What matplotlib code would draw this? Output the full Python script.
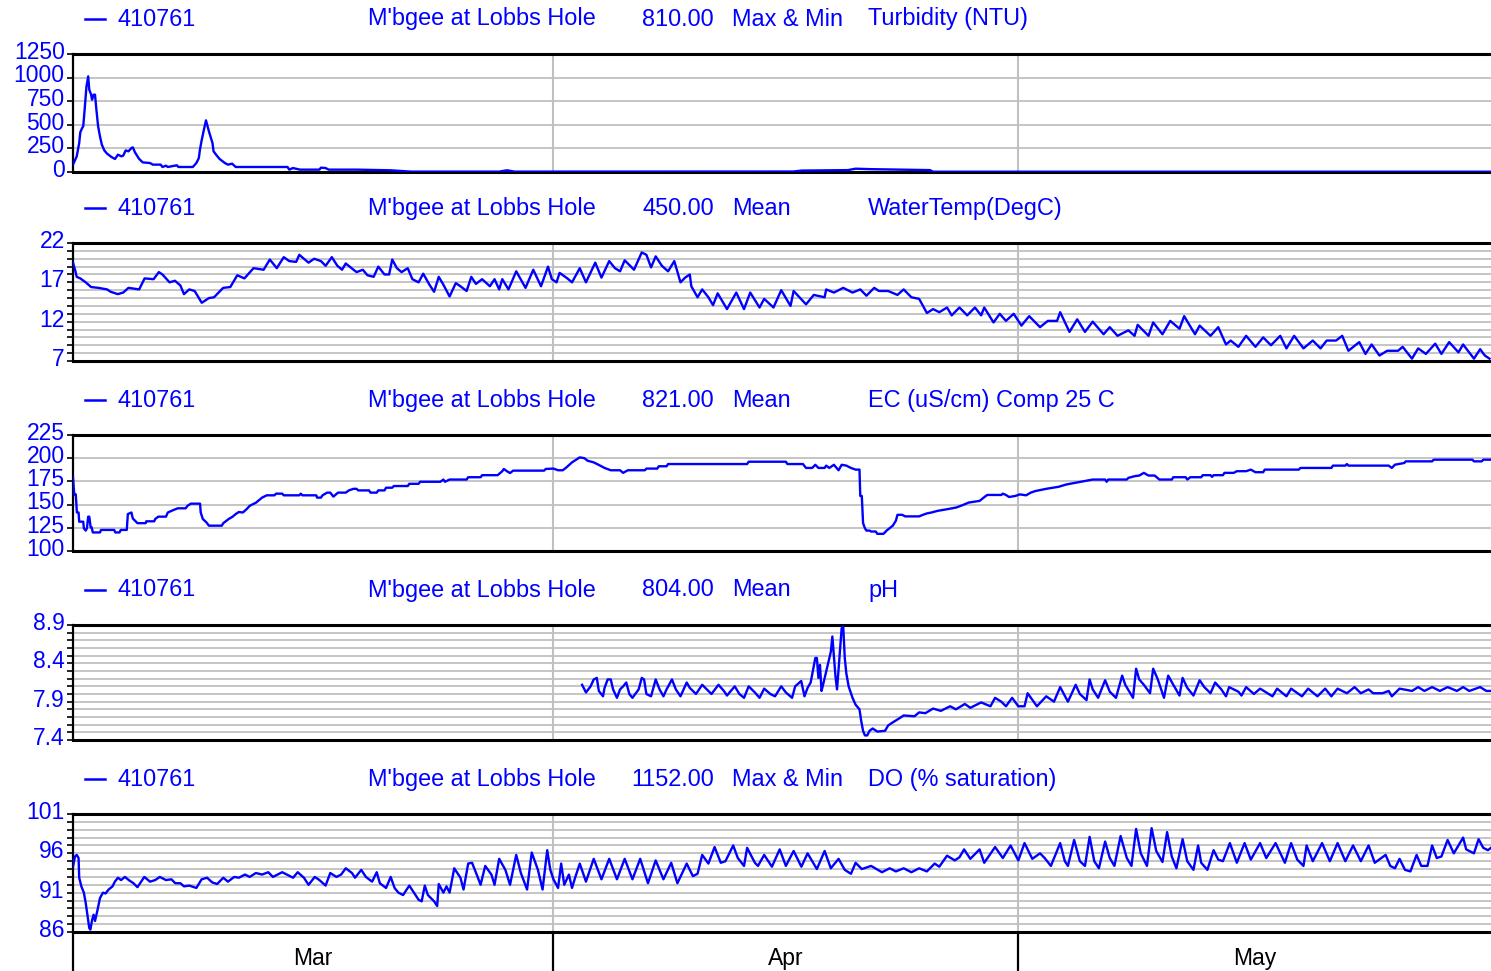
import numpy as np
import matplotlib
matplotlib.use("Agg")
import matplotlib.pyplot as plt
from matplotlib.ticker import FixedLocator, MultipleLocator, NullFormatter
from matplotlib.transforms import ScaledTranslation

plt.rcParams['font.family'] = ['Liberation Sans', 'DejaVu Sans']

# time axis in days since 1 Mar
months = ["Mar", "Apr", "May"]
month_start = [0, 31, 61]
month_mid = [15.5, 46, 76.25]
x_end = 91.5

site = "410761"
site_name = "M'bgee at Lobbs Hole"

# ---- Turbidity (NTU)
turb_day = [0, 0.24, 0.4, 0.47, 0.59, 0.66, 0.75, 0.87, 0.98, 1.05, 1.17, 1.23, 1.33, 1.42,
            1.51, 1.62, 1.74, 1.86, 2.02, 2.2, 2.48, 2.71, 2.9, 3.12, 3.24, 3.4, 3.58, 3.77,
            3.86, 4.0, 4.27, 4.5, 4.97, 5.15, 5.66, 5.77, 6.0, 6.12, 6.7, 6.8, 7.73, 7.96,
            8.12, 8.19, 8.31, 8.47, 8.58, 8.77, 9.0, 9.07, 9.23, 9.46, 9.8, 10.0, 10.27, 10.5,
            11.2, 13.84, 13.96, 14.19, 14.65, 15.9, 16.0, 16.3, 16.5, 18.3, 20.5, 21.8, 27.5,
            28.0, 28.5, 46.5, 47.0, 50.0, 50.5, 51.5, 55.3, 55.5, 91.5]
turb_val = [78, 166, 307, 420, 466, 484, 660, 907, 1013, 872, 819, 766, 819, 819,
            660, 484, 378, 290, 229, 194, 159, 138, 184, 166, 173, 229, 219, 254,
            261, 208, 138, 102, 95, 78, 78, 53, 67, 53, 71, 53, 53, 95,
            148, 237, 342, 466, 547, 431, 307, 219, 184, 138, 95, 78, 88, 53,
            53, 53, 25, 42, 25, 25, 46, 42, 25, 25, 18, 4, 4,
            18, 4, 5, 15, 20, 35, 30, 20, 3, 3]

# ---- Water temperature (DegC)
temp_day = [0, 0.13, 0.24, 0.47, 0.82, 1.17, 1.63, 2.2, 2.43, 2.89, 3.24, 3.58, 4.27, 4.62,
            5.2, 5.54, 5.77, 6.23, 6.58, 6.93, 7.16, 7.5, 7.85, 8.31, 8.77, 9.1, 9.69, 10.15,
            10.6, 11.06, 11.65, 12.3, 12.7, 13.15, 13.6, 13.95, 14.4, 14.6, 14.9, 15.2, 15.56,
            16.0, 16.3, 16.7, 17.06, 17.36, 17.6, 18.1, 18.3, 18.7, 19.0, 19.4, 19.7, 20.1,
            20.4, 20.6, 20.9, 21.2, 21.6, 21.9, 22.3, 22.6, 23.0, 23.3, 23.6, 23.9, 24.3, 24.7,
            25.0, 25.4, 25.7, 26.0, 26.4, 26.9, 27.2, 27.5, 27.7, 28.1, 28.6, 29.2, 29.7, 30.2,
            30.65, 30.9, 31.2, 31.4, 31.9, 32.2, 32.7, 33.1, 33.7, 34.1, 34.6, 34.97, 35.3, 35.6,
            36.2, 36.7, 37.0, 37.3, 37.6, 38.0, 38.4, 38.8, 39.2, 39.5, 39.8, 39.9, 40.3, 40.6,
            41.0, 41.3, 41.6, 42.2, 42.8, 43.3, 43.7, 44.3, 44.6, 45.2, 45.7, 46.3, 46.5, 47.3,
            47.8, 48.5, 48.6, 49.1, 49.7, 50.3, 50.8, 51.2, 51.7, 52.0, 52.6, 53.2, 53.6, 54.1,
            54.6, 55.1, 55.5, 55.9, 56.4, 56.7, 57.2, 57.7, 58.2, 58.6, 58.8, 59.4, 59.8, 60.2,
            60.7, 61.2, 61.7, 62.4, 62.9, 63.5, 63.7, 64.3, 64.8, 65.3, 65.8, 66.5, 66.9, 67.4,
            68.1, 68.5, 68.7, 69.4, 69.7, 70.3, 70.8, 71.4, 71.7, 72.4, 72.7, 73.4, 73.9, 74.4,
            74.7, 75.2, 75.7, 76.3, 76.8, 77.3, 77.9, 78.3, 78.8, 79.4, 80.0, 80.5, 80.9, 81.5,
            81.9, 82.3, 83.0, 83.4, 83.8, 84.3, 84.8, 85.5, 85.8, 86.4, 86.8, 87.3, 87.9, 88.3,
            88.8, 89.4, 89.7, 90.4, 90.8, 91.1, 91.4]
temp_val = [19.5, 18.6, 17.7, 17.5, 17.0, 16.4, 16.3, 16.1, 15.8, 15.5, 15.7, 16.3, 16.1, 17.5,
            17.4, 18.3, 18.0, 17.0, 17.2, 16.6, 15.5, 16.1, 15.9, 14.4, 15.0, 15.1, 16.3, 16.4,
            17.9, 17.5, 18.8, 18.6, 19.9, 18.8, 20.2, 19.7, 19.6, 20.5, 20.0, 19.5, 20.0,
            19.7, 19.1, 20.2, 19.1, 18.6, 19.4, 18.6, 18.3, 18.6, 17.9, 17.7, 19.0, 18.0,
            18.0, 19.9, 18.8, 18.3, 18.8, 17.4, 17.0, 18.1, 16.7, 15.8, 17.7, 16.7, 15.2, 16.9,
            16.5, 15.9, 17.7, 16.8, 17.4, 16.5, 17.4, 16.1, 17.4, 16.1, 18.4, 16.3, 18.6, 16.5,
            19.0, 17.4, 17.0, 18.2, 17.5, 17.0, 18.8, 17.0, 19.5, 17.6, 19.7, 18.8, 18.4, 19.8,
            18.6, 20.8, 20.5, 18.9, 20.3, 19.1, 18.4, 19.7, 17.0, 17.6, 18.0, 16.5, 15.1, 16.1,
            15.1, 14.1, 15.6, 13.6, 15.7, 13.6, 15.7, 13.8, 14.9, 13.8, 16.0, 14.0, 15.9, 14.2,
            15.4, 15.1, 16.1, 15.7, 16.3, 15.7, 16.1, 15.3, 16.3, 15.9, 15.9, 15.4, 16.1, 15.1,
            14.9, 13.1, 13.6, 13.2, 13.8, 12.8, 13.8, 12.8, 13.8, 12.8, 13.8, 11.9, 13.0, 12.1,
            13.0, 11.5, 12.7, 11.3, 12.1, 12.1, 13.2, 10.7, 12.3, 10.7, 12.0, 10.4, 11.3, 10.2,
            10.9, 10.2, 11.6, 10.2, 11.9, 10.4, 12.1, 11.1, 12.7, 10.4, 11.5, 10.2, 11.3, 9.1,
            9.6, 8.8, 10.2, 8.8, 10.0, 9.0, 10.2, 8.6, 10.2, 8.6, 9.6, 8.6, 9.6, 9.6,
            10.2, 8.3, 9.4, 7.9, 9.1, 7.7, 8.3, 8.3, 8.8, 7.3, 8.6, 7.9, 9.2, 7.9,
            9.4, 8.1, 9.1, 7.3, 8.5, 7.7, 7.3]

# ---- EC (uS/cm) compensated to 25 C
ec_day = [0, 0.08, 0.18, 0.25, 0.36, 0.4, 0.66, 0.7, 0.82, 0.9, 0.98, 1.05, 1.14, 1.2, 1.28,
          1.74, 1.81, 2.66, 2.73, 3.0, 3.08, 3.47, 3.54, 3.77, 3.86, 4.16, 4.69, 4.73, 5.24,
          5.3, 5.5, 6.0, 6.12, 6.46, 6.76, 7.27, 7.39, 7.6, 8.2, 8.24, 8.38, 8.6, 8.77, 9.6,
          9.7, 10.04, 10.3, 10.5, 10.7, 10.96, 11.2, 11.4, 11.8, 12.2, 12.5, 13.0, 13.1, 13.5,
          13.6, 14.6, 14.7, 14.8, 15.7, 15.75, 16.0, 16.1, 16.4, 16.6, 16.8, 17.1, 17.6, 17.8,
          18.1, 18.3, 18.4, 19.1, 19.2, 19.6, 19.7, 20.1, 20.2, 20.6, 20.7, 21.6, 21.7, 22.3,
          22.4, 23.7, 23.9, 24.0, 24.3, 25.4, 25.5, 26.3, 26.4, 27.4, 27.7, 27.8, 28.0, 28.2,
          28.4, 30.4, 30.5, 31.0, 31.3, 31.6, 31.8, 32.2, 32.7, 33.0, 33.2, 33.6, 33.9, 34.3,
          34.7, 35.3, 35.5, 35.8, 36.9, 37.0, 37.7, 37.8, 38.3, 38.4, 43.5, 43.6, 46.0, 46.1,
          47.1, 47.3, 47.7, 47.9, 48.1, 48.5, 48.6, 48.8, 49.1, 49.4, 49.6, 49.9, 50.2, 50.5,
          50.75, 50.8, 50.9, 50.98, 51.1, 51.2, 51.4, 51.5, 51.8, 51.9, 52.3, 52.5, 52.9, 53.1,
          53.2, 53.5, 53.7, 54.6, 54.8, 55.1, 55.4, 55.8, 56.4, 57.0, 57.4, 57.8, 58.5, 58.9,
          59.0, 59.9, 60.0, 60.2, 60.4, 60.8, 61.1, 61.5, 61.8, 62.1, 62.8, 63.6, 64.1, 64.9,
          65.8, 66.6, 66.7, 66.8, 68.0, 68.1, 68.5, 68.8, 69.1, 69.4, 69.8, 70.1, 70.9, 71.0,
          71.8, 71.9, 72.1, 72.8, 72.9, 73.4, 73.5, 73.6, 74.2, 74.3, 74.9, 75.1, 75.7, 76.0,
          76.3, 76.8, 76.9, 79.1, 79.2, 81.2, 81.3, 82.1, 82.2, 82.3, 84.9, 85.1, 85.3, 85.9,
          86.0, 87.7, 87.8, 90.3, 90.4, 90.9, 91.0, 91.5]
ec_val = [179, 161, 161, 141.5, 141.5, 131.6, 131.6, 124.5, 122, 124.5, 137, 137, 125.6, 125.6, 120,
          120, 122.7, 122.7, 120, 120, 122.7, 122.7, 139.8, 141.5, 135, 130, 130, 132, 132,
          134.4, 137, 137, 141.5, 144, 146, 146, 148.7, 151, 151, 141.5, 134.4, 131, 127.3, 127.3,
          130, 134.4, 137, 139.8, 142, 141.5, 145, 148.7, 152, 157.5, 160, 160, 161.8, 161.8,
          160, 160, 161.8, 160, 160, 157.5, 157.5, 160, 162.9, 162.9, 158.6, 162.9, 162.9, 165.3,
          167, 167, 165.3, 165.3, 162.9, 162.9, 165.3, 165.3, 168.2, 168.2, 170, 170, 172.4, 172.4,
          174.6, 174.6, 177, 174.6, 177, 177, 179.5, 179.5, 181.7, 181.7, 186, 188.4, 186, 184,
          186.6, 186.6, 188.4, 188.8, 187, 187, 189.5, 195.5, 200.9, 200, 197.3, 195.5, 193, 189.5,
          187, 187, 184.2, 187, 187, 188.8, 188.8, 191.3, 191.3, 193.7, 193.7, 196.2, 196.2, 193.7,
          193.7, 189.5, 189.5, 192.9, 189.5, 189.5, 192, 189.5, 192.9, 187, 192.9, 192, 189.5, 187.7,
          187.7, 159.3, 159.3, 130.2, 124.5, 122, 122, 121, 121, 118.5, 118.5, 122, 127.3, 132.7,
          139, 139, 137.3, 137.3, 138.7, 140.5, 141.5, 143.3, 145, 146.9, 149.4, 152.2, 154, 159.3,
          160.4, 160.4, 161.8, 160.4, 158.2, 159.3, 161, 160, 162.9, 164.6, 167, 169.2, 171.7, 174.2,
          177, 177, 174.6, 177, 177, 178.8, 180.6, 181.3, 184.2, 181.3, 181.3, 177, 177, 179.5,
          179.5, 177, 179.5, 179.5, 181.7, 181.7, 179.9, 181.7, 181.7, 184.2, 184.2, 186, 186, 187.7,
          184.9, 184.9, 187.7, 187.7, 189.5, 189.5, 192, 192, 193.7, 192, 192, 189.5, 193, 194.8,
          196.6, 196.6, 198.4, 198.4, 196.6, 196.6, 198.4, 198.4]

# ---- pH (logger starts early April)
ph_day = [32.85, 33.1, 33.4, 33.6, 33.8, 33.93, 34.2, 34.3, 34.5, 34.7, 34.85, 35.1, 35.3, 35.5,
          35.7, 35.9, 36.1, 36.5, 36.7, 36.85, 37.0, 37.3, 37.6, 37.85, 38.1, 38.3, 38.65, 38.9,
          39.2, 39.6, 39.8, 40.2, 40.6, 41.0, 41.2, 41.65, 42.0, 42.2, 42.7, 43.0, 43.3, 43.6,
          44.0, 44.3, 44.6, 45.0, 45.3, 45.7, 46.0, 46.4, 46.6, 46.99, 47.2, 47.4, 47.6, 47.9,
          48.0, 48.1, 48.2, 48.3, 48.4, 48.7, 48.9, 49.0, 49.2, 49.3, 49.4, 49.6, 49.7, 49.8,
          49.9, 50.05, 50.3, 50.5, 50.75, 50.86, 50.98, 51.1, 51.25, 51.4, 51.6, 51.9, 52.4, 52.6,
          52.9, 53.3, 53.6, 54.3, 54.6, 55.0, 55.5, 56.0, 56.6, 56.97, 57.55, 57.9, 58.6, 59.2,
          59.5, 59.9, 60.2, 60.6, 61.0, 61.4, 61.6, 62.2, 62.8, 63.3, 63.7, 64.2, 64.7, 64.97,
          65.4, 65.6, 65.8, 66.15, 66.6, 66.9, 67.3, 67.7, 67.9, 68.4, 68.6, 68.8, 69.1, 69.5,
          69.7, 70.0, 70.4, 70.67, 71.0, 71.4, 71.6, 71.9, 72.3, 72.7, 73.0, 73.4, 73.7, 74.1,
          74.4, 74.6, 75.2, 75.4, 75.7, 76.2, 76.6, 77.4, 77.7, 78.3, 78.6, 79.3, 79.7, 80.3,
          80.8, 81.2, 81.6, 82.2, 82.7, 83.1, 83.6, 83.9, 84.5, 84.9, 85.1, 85.6, 86.4, 86.8,
          87.2, 87.7, 88.2, 88.7, 89.3, 89.7, 90.1, 90.8, 91.2, 91.5]
ph_val = [8.12, 8.02, 8.10, 8.19, 8.21, 8.04, 7.97, 8.08, 8.19, 8.19, 8.06, 7.95, 8.06, 8.10,
          8.15, 8.00, 7.95, 8.06, 8.21, 8.19, 8.00, 7.97, 8.19, 8.06, 7.97, 8.06, 8.19, 8.06,
          7.97, 8.15, 8.08, 8.00, 8.12, 8.04, 8.00, 8.12, 8.04, 7.98, 8.10, 8.00, 7.95, 8.10,
          8.02, 7.95, 8.07, 8.00, 7.97, 8.10, 8.02, 7.95, 8.10, 8.17, 7.97, 8.08, 8.15, 8.47,
          8.47, 8.21, 8.38, 8.04, 8.12, 8.38, 8.55, 8.75, 8.23, 8.06, 8.32, 8.86, 8.88, 8.47,
          8.27, 8.10, 7.95, 7.86, 7.80, 7.65, 7.52, 7.46, 7.46, 7.52, 7.55, 7.51, 7.52, 7.59,
          7.63, 7.68, 7.72, 7.71, 7.76, 7.75, 7.81, 7.78, 7.84, 7.80, 7.87, 7.82, 7.89, 7.84,
          7.95, 7.90, 7.84, 7.95, 7.84, 7.84, 8.01, 7.84, 7.97, 7.90, 8.09, 7.90, 8.12, 8.00,
          7.92, 8.19, 8.06, 7.95, 8.18, 8.03, 7.95, 8.24, 8.12, 7.95, 8.33, 8.19, 8.12, 8.01,
          8.33, 8.19, 7.95, 8.24, 8.12, 7.98, 8.21, 8.08, 7.98, 8.18, 8.09, 8.01, 8.15, 8.06,
          7.97, 8.09, 8.03, 7.98, 8.09, 8.00, 8.07, 7.97, 8.07, 7.97, 8.07, 7.97, 8.07, 7.97,
          8.07, 7.97, 8.07, 8.01, 8.09, 8.01, 8.06, 8.01, 8.01, 8.04, 7.97, 8.07, 8.04, 8.09,
          8.04, 8.09, 8.04, 8.09, 8.04, 8.09, 8.04, 8.09, 8.04, 8.04]

# ---- Dissolved oxygen (% saturation)
do_day = [0, 0.13, 0.24, 0.36, 0.4, 0.54, 0.7, 0.82, 0.94, 1.05, 1.12, 1.24, 1.33, 1.42, 1.56,
          1.74, 1.93, 2.1, 2.3, 2.55, 2.7, 2.9, 3.1, 3.35, 3.6, 3.9, 4.16, 4.4, 4.6, 4.97, 5.3,
          5.6, 6.0, 6.35, 6.6, 6.93, 7.16, 7.5, 7.96, 8.3, 8.65, 8.99, 9.3, 9.7, 10.0, 10.4,
          10.7, 11.1, 11.4, 11.8, 12.2, 12.6, 12.9, 13.5, 13.8, 14.2, 14.5, 14.9, 15.2, 15.6,
          15.9, 16.3, 16.6, 17.0, 17.3, 17.6, 18.0, 18.2, 18.6, 18.9, 19.3, 19.6, 19.8, 20.2,
          20.5, 20.75, 21.0, 21.3, 21.7, 22.0, 22.3, 22.5, 22.7, 22.9, 23.3, 23.5, 23.6, 23.9,
          24.1, 24.3, 24.6, 24.8, 25.0, 25.2, 25.5, 25.75, 26.05, 26.3, 26.6, 27.0, 27.2, 27.5,
          27.9, 28.2, 28.6, 28.9, 29.3, 29.6, 30.0, 30.3, 30.6, 30.8, 31.0, 31.3, 31.5, 31.7,
          32.0, 32.2, 32.4, 32.7, 33.1, 33.6, 34.1, 34.6, 35.1, 35.6, 36.1, 36.6, 37.1, 37.6,
          38.1, 38.6, 39.0, 39.6, 40.0, 40.3, 40.6, 41.0, 41.4, 41.8, 42.1, 42.6, 42.9, 43.3,
          43.5, 44.0, 44.2, 44.6, 45.1, 45.6, 46.0, 46.5, 47.0, 47.4, 48.0, 48.5, 48.9, 49.4,
          49.8, 50.2, 50.5, 50.9, 51.5, 52.2, 52.7, 53.1, 53.6, 54.1, 54.6, 55.1, 55.6, 55.9,
          56.4, 56.9, 57.2, 57.5, 57.9, 58.5, 58.8, 59.5, 60.0, 60.5, 61.0, 61.4, 61.9, 62.4,
          62.7, 63.1, 63.7, 64.0, 64.2, 64.6, 64.97, 65.3, 65.6, 65.9, 66.2, 66.6, 66.9, 67.2,
          67.6, 68.0, 68.3, 68.6, 68.9, 69.3, 69.6, 69.9, 70.3, 70.6, 70.9, 71.2, 71.6, 71.9,
          72.3, 72.6, 72.8, 73.2, 73.6, 73.9, 74.2, 74.65, 75.1, 75.6, 76.0, 76.6, 77.0, 77.6,
          78.2, 78.6, 79.0, 79.4, 79.6, 80.0, 80.6, 81.1, 81.6, 82.1, 82.6, 83.1, 83.6, 84.0,
          84.7, 85.0, 85.3, 85.6, 85.95, 86.3, 86.7, 87.0, 87.4, 87.7, 88.0, 88.3, 88.7, 89.1,
          89.7, 89.9, 90.4, 90.7, 91.0, 91.3, 91.5]
do_val = [94.3, 95.6, 95.8, 95.4, 92.9, 91.8, 91.0, 89.7, 88.0, 86.5, 86.3, 87.6, 88.2, 87.4, 88.6,
          90.3, 91.0, 90.9, 91.4, 91.8, 92.4, 92.9, 92.6, 93.0, 92.6, 92.2, 91.7, 92.4, 93.0, 92.4, 92.6,
          93.0, 92.6, 92.7, 92.2, 92.2, 91.8, 91.9, 91.6, 92.7, 92.9, 92.3, 92.1, 92.9, 92.4, 93.0,
          92.9, 93.3, 93.0, 93.5, 93.3, 93.6, 93.0, 93.6, 93.3, 92.9, 93.6, 92.9, 92.0, 93.0,
          92.6, 91.9, 93.5, 93.0, 93.3, 94.1, 93.5, 92.9, 93.9, 93.0, 92.4, 93.6, 92.2, 91.6,
          93.0, 91.6, 91.0, 90.7, 91.9, 91.0, 90.1, 89.9, 91.9, 90.7, 89.9, 89.3, 92.1, 91.0,
          91.8, 91.0, 94.1, 93.5, 92.9, 91.4, 94.7, 94.8, 93.3, 92.0, 94.4, 93.3, 92.0, 95.3,
          93.9, 92.0, 95.8, 93.5, 91.4, 96.1, 93.9, 91.4, 96.4, 93.9, 92.7, 91.6, 94.7, 92.0,
          93.3, 91.6, 92.9, 94.7, 92.4, 95.3, 92.7, 95.3, 92.7, 95.3, 92.7, 95.3, 92.2, 95.1,
          92.7, 94.8, 92.2, 94.7, 93.1, 93.4, 95.8, 94.7, 96.8, 94.8, 95.0, 97.0, 95.4, 94.4,
          96.7, 94.8, 94.4, 95.8, 94.3, 96.5, 94.4, 96.3, 94.3, 96.0, 94.0, 96.3, 94.1, 95.3,
          93.9, 93.4, 94.8, 94.0, 94.4, 93.6, 94.1, 93.7, 94.1, 93.6, 94.1, 93.7, 94.7, 94.3,
          95.7, 95.1, 95.5, 96.5, 95.3, 96.5, 94.8, 96.8, 95.4, 97.0, 95.1, 97.3, 95.3, 96.0,
          95.4, 94.4, 97.3, 95.0, 94.4, 97.7, 95.0, 94.4, 98.1, 95.0, 94.1, 97.5, 95.4, 94.4,
          98.2, 95.4, 94.4, 99.1, 96.0, 94.4, 99.2, 96.3, 94.9, 98.7, 95.6, 94.1, 97.8, 95.0,
          93.9, 97.0, 94.8, 93.9, 96.4, 95.2, 95.0, 97.3, 94.8, 97.3, 95.2, 97.3, 95.4, 97.3,
          94.8, 97.3, 95.2, 94.4, 97.0, 95.0, 97.3, 95.0, 97.3, 95.0, 97.0, 95.0, 97.0, 94.8,
          95.8, 94.4, 94.1, 95.3, 93.9, 93.7, 95.8, 94.4, 94.4, 97.0, 95.4, 95.6, 97.7, 96.0,
          98.0, 96.5, 96.0, 97.8, 96.7, 96.4, 96.7]

panels = [
    (turb_day, turb_val, "810.00", "Max & Min", "Turbidity (NTU)", (0, 1250), [0, 250, 500, 750, 1000, 1250], None),
    (temp_day, temp_val, "450.00", "Mean", "WaterTemp(DegC)", (7, 22), [7, 12, 17, 22], 1),
    (ec_day, ec_val, "821.00", "Mean", "EC (uS/cm) Comp 25 C", (100, 225), [100, 125, 150, 175, 200, 225], None),
    (ph_day, ph_val, "804.00", "Mean", "pH", (7.4, 8.9), [7.4, 7.9, 8.4, 8.9], 0.1),
    (do_day, do_val, "1152.00", "Max & Min", "DO (% saturation)", (86, 101), [86, 91, 96, 101], 1),
]
# pixel extents (top, bottom) of each plot box
boxes = [(54, 172), (243, 361), (435, 551), (625, 740), (814, 932)]

W, H = 1491, 971
fig = plt.figure(figsize=(W / 100, H / 100), dpi=100)
blue = "#0000ff"
grey = "#c0c0c0"
fs = 16.5
hfs = 16.9
left, right = 73, 1491

for (days, vals, count, stat, param, ylim, majors, minor), (top, bot) in zip(panels, boxes):
    ax = fig.add_axes([left / W, 1 - bot / H, (right - left) / W, (bot - top) / H])
    ax.plot(days, vals, color=blue, lw=1.7, zorder=3)
    ax.set_xlim(0, x_end)
    ax.set_ylim(*ylim)
    ax.yaxis.set_major_locator(FixedLocator(majors))
    if minor:
        ax.yaxis.set_minor_locator(MultipleLocator(minor))
        ax.grid(True, axis="y", which="minor", color=grey, lw=1.3, zorder=1)
    ax.grid(True, axis="y", which="major", color=grey, lw=1.3, zorder=1)
    for d in month_start[1:]:
        ax.axvline(d, color=grey, lw=1.5, zorder=1)
    ax.tick_params(axis="y", which="both", direction="out", length=4, width=1.2,
                   colors="black", labelcolor=blue, labelsize=fs, pad=2)
    if ylim[1] < 10:
        ax.set_yticklabels([f"{v:.1f}" for v in majors])
    for lab in ax.get_yticklabels():
        lab.set_transform(lab.get_transform() + ScaledTranslation(0, 3 / 72, fig.dpi_scale_trans))
    ax.set_xticks([])
    for s in ["top", "bottom"]:
        ax.spines[s].set_linewidth(2.2)
    ax.spines["left"].set_linewidth(1.6)
    ax.spines["right"].set_visible(False)

    # header line above each box
    ty = 1 - (top - 35) / H
    fig.add_artist(plt.Line2D([85 / W, 105 / W], [ty, ty], color=blue, lw=1.8))
    fig.text(118 / W, ty, site, color=blue, fontsize=hfs, va="center")
    fig.text(368 / W, ty, site_name, color=blue, fontsize=hfs, va="center")
    fig.text(714 / W, ty, count, color=blue, fontsize=hfs, va="center", ha="right")
    fig.text(732 / W, ty, stat, color=blue, fontsize=hfs, va="center")
    fig.text(868 / W, ty, param, color=blue, fontsize=hfs, va="center")

# month ticks under the last box
ax.set_xticks(month_start)
ax.set_xticklabels([])
ax.set_xticks(month_mid, minor=True)
ax.set_xticklabels(months, minor=True)
ax.tick_params(axis="x", which="major", direction="out", length=30, width=1.6, colors="black")
ax.tick_params(axis="x", which="minor", length=0, labelsize=fs, labelcolor="black", pad=10.5)

fig.savefig("out.png", dpi=100)
